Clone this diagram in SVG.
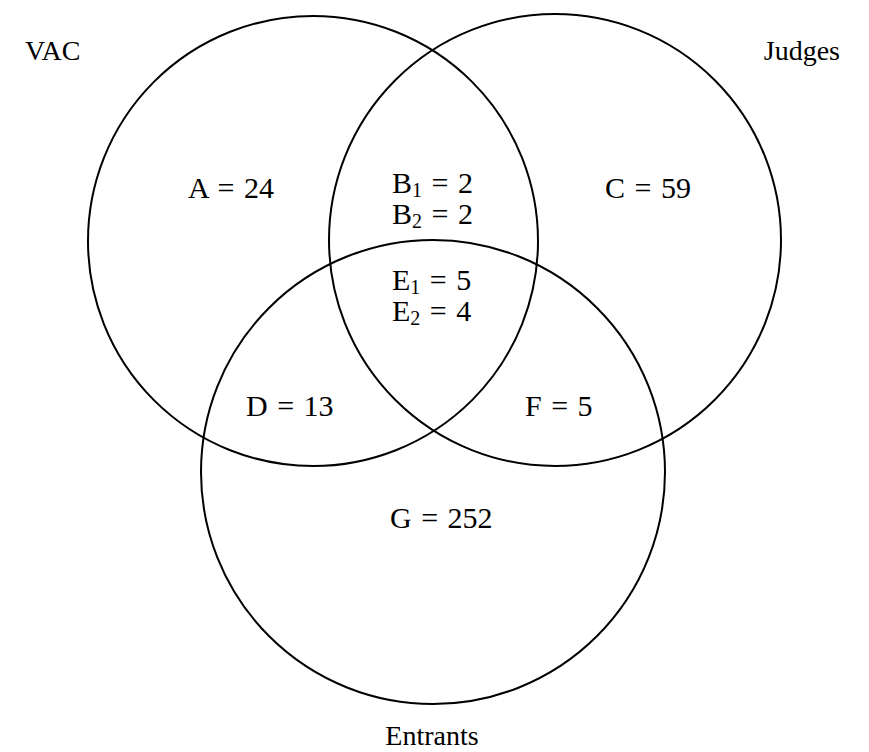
<svg xmlns="http://www.w3.org/2000/svg" width="869" height="752" viewBox="0 0 869 752">
<style>
.c{fill:none;stroke:#000;stroke-width:2}
text{font-family:"Liberation Serif","Times New Roman",serif;font-size:28px;fill:#000}
.l{word-spacing:2px;font-size:30px}
.s{font-size:20px}
</style>
<rect width="869" height="752" fill="#fff"/>
<g id="connectors"></g>
<g id="vac"><circle class="c" cx="313" cy="241" r="225"/><text x="25" y="60">VAC</text></g>
<g id="judges"><circle class="c" cx="555" cy="240" r="226"/><text x="840" y="60" text-anchor="end">Judges</text></g>
<g id="entrants"><circle class="c" cx="433" cy="472" r="232"/><text x="432" y="745" text-anchor="middle">Entrants</text></g>
<g id="A"><text class="l" x="188" y="198">A = 24</text></g>
<g id="C"><text class="l" x="605" y="198">C = 59</text></g>
<g id="B"><text class="l" x="392" y="193">B<tspan class="s" dy="4">1</tspan><tspan dy="-4"> = 2</tspan></text><text class="l" x="392" y="224">B<tspan class="s" dy="4">2</tspan><tspan dy="-4"> = 2</tspan></text></g>
<g id="E"><text class="l" x="392" y="290">E<tspan class="s" dy="4">1</tspan><tspan dy="-4"> = 5</tspan></text><text class="l" x="392" y="321">E<tspan class="s" dy="4">2</tspan><tspan dy="-4"> = 4</tspan></text></g>
<g id="D"><text class="l" x="246" y="416">D = 13</text></g>
<g id="F"><text class="l" x="525" y="416">F = 5</text></g>
<g id="G"><text class="l" x="390" y="528">G = 252</text></g>
</svg>
